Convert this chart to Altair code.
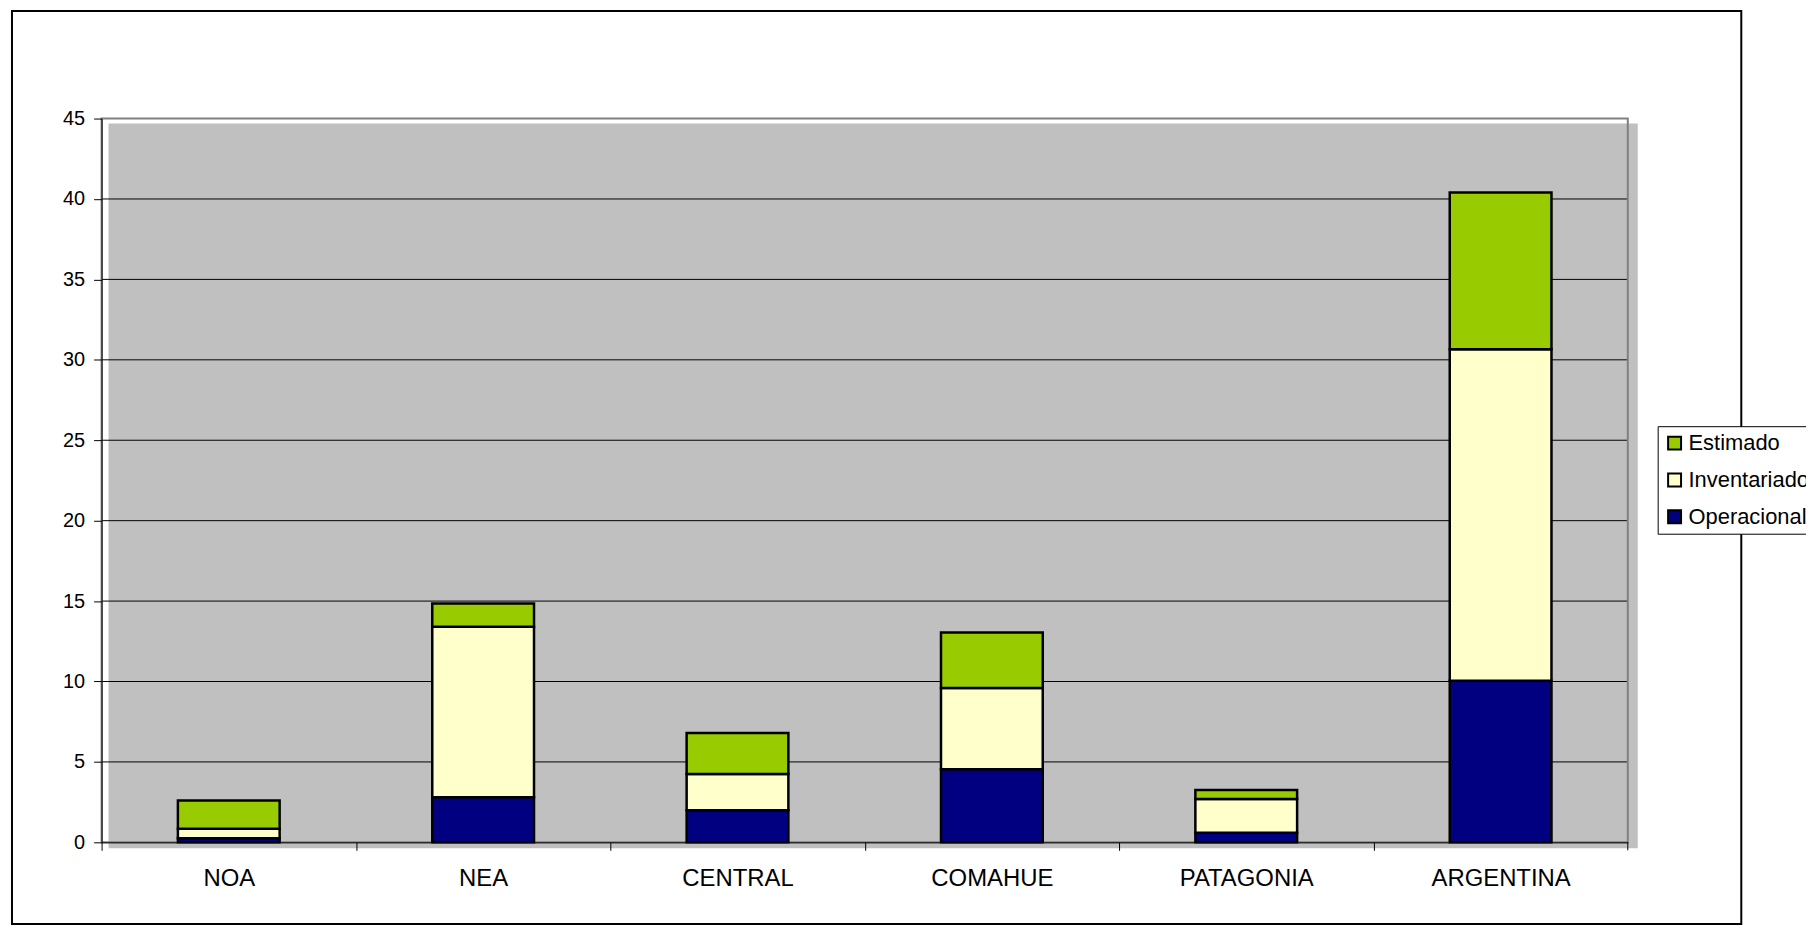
import altair as alt
import pandas as pd

# ---- data ----
regions = ["NOA", "NEA", "CENTRAL", "COMAHUE", "PATAGONIA", "ARGENTINA"]
series = ["Estimado", "Inventariado", "Operacional"]
colors = ["#99CC00", "#FFFFCC", "#000080"]
operacional = [0.25, 2.8, 2.0, 4.55, 0.6, 10.05]
inventariado = [0.6, 10.6, 2.25, 5.05, 2.1, 20.6]
estimado = [1.75, 1.45, 2.55, 3.45, 0.55, 9.75]
y_ticks = [0, 5, 10, 15, 20, 25, 30, 35, 40, 45]
grid_values = [5, 10, 15, 20, 25, 30, 35, 40]

rows = []
for i, r in enumerate(regions):
    rows.append({"region": r, "serie": "Operacional", "ord": 0, "value": operacional[i]})
    rows.append({"region": r, "serie": "Inventariado", "ord": 1, "value": inventariado[i]})
    rows.append({"region": r, "serie": "Estimado", "ord": 2, "value": estimado[i]})
df = pd.DataFrame(rows)
grid_df = pd.DataFrame({"v": grid_values})
one = pd.DataFrame({"a": [0]})

W, H = 1533, 727
STEP = W / len(regions)
FONT = "Liberation Sans"

yscale = alt.Scale(domain=[0, 45], nice=False, zero=True)
yaxis = alt.Axis(values=y_ticks, labelFont=FONT, labelFontSize=20, labelColor="black",
                 tickSize=8, tickColor="black", domainColor="black",
                 labelPadding=9, zindex=1, grid=False)

# plot-area fill (offset, like Excel shadow)
fill = alt.Chart(one).mark_rect(fill="#C0C0C0").encode(
    x=alt.value(7), x2=alt.value(W + 10), y=alt.value(5), y2=alt.value(H + 6)
)

grid = alt.Chart(grid_df).mark_rule(color="black", strokeWidth=1).encode(
    y=alt.Y("v:Q", scale=yscale, axis=yaxis, title=None),
    x=alt.value(0), x2=alt.value(W),
)

frame = alt.Chart(one).mark_rect(fillOpacity=0, stroke="#808080", strokeWidth=2).encode(
    x=alt.value(0), x2=alt.value(W), y=alt.value(0), y2=alt.value(H)
)

# closing tick at the right end of the category axis
end_tick = alt.Chart(one).mark_rule(color="black", strokeWidth=1).encode(
    x=alt.value(W), y=alt.value(H), y2=alt.value(H + 8)
)

outer = alt.Chart(one).mark_rect(fillOpacity=0, stroke="black", strokeWidth=2).encode(
    x=alt.value(-90), x2=alt.value(1647), y=alt.value(-108), y2=alt.value(809)
)

bars = alt.Chart(df).mark_bar(stroke="black", strokeWidth=2.5, opacity=1).encode(
    x=alt.X("region:N", sort=regions, title=None,
            scale=alt.Scale(paddingInner=0.6, paddingOuter=0.3),
            axis=alt.Axis(labelAngle=0, labelFont=FONT, labelFontSize=24, labelColor="black",
                          tickOffset=-STEP / 2, labelOffset=STEP / 2,
                          tickSize=8, tickColor="black", domainColor="black",
                          labelPadding=16, zindex=1, grid=False)),
    y=alt.Y("value:Q", stack="zero", scale=yscale, title=None, axis=yaxis),
    color=alt.Color("serie:N", scale=alt.Scale(domain=series, range=colors),
                    legend=alt.Legend(orient="none", legendX=1563, legendY=309, title=None,
                                      labelFont=FONT, labelFontSize=22, labelColor="black",
                                      symbolType="square", symbolSize=169,
                                      symbolStrokeColor="black", symbolStrokeWidth=2,
                                      symbolOpacity=1,
                                      strokeColor="black", fillColor="white",
                                      padding=6, rowPadding=15, labelOffset=3)),
    order=alt.Order("ord:Q", sort="ascending"),
)

chart = alt.layer(fill, grid, frame, bars, end_tick, outer).properties(
    width=W, height=H,
    autosize=alt.AutoSizeParams(type="none"),
    padding={"left": 94, "top": 109, "right": 179, "bottom": 88},
    background="white",
).configure_view(stroke="transparent")

chart.save("out.html", embed_options={"renderer": "svg", "actions": False})
